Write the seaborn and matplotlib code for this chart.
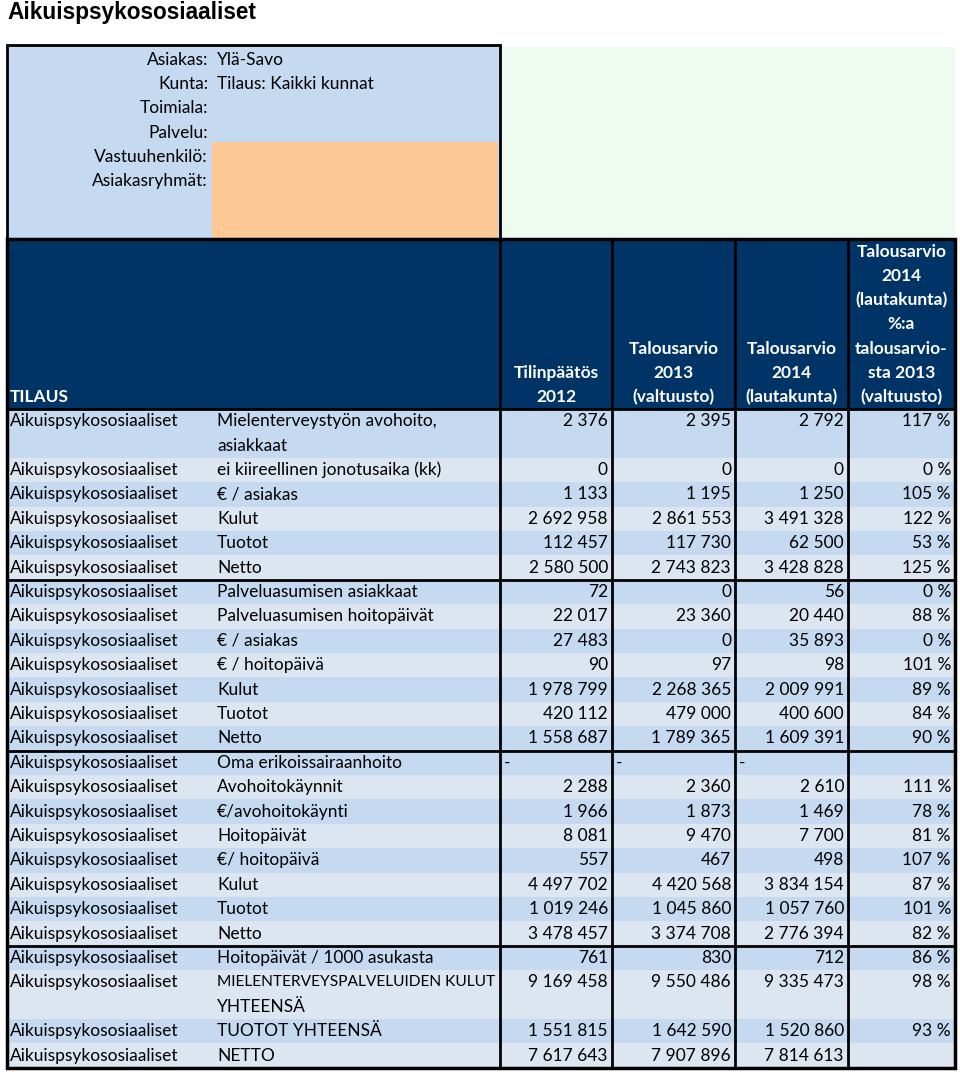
#!/usr/bin/env python3
"""
Aikuispsykososiaaliset - budget table recreated as a figure.
"""
import numpy as np
import matplotlib
matplotlib.use('Agg')
import matplotlib.pyplot as plt
import seaborn as sns

sns.set_theme(style="white")
plt.rcParams['font.family'] = ['Lato', 'DejaVu Sans']

# Data
TITLE = 'Aikuispsykososiaaliset'
info_labels = ['Asiakas:', 'Kunta:', 'Toimiala:', 'Palvelu:', 'Vastuuhenkilö:', 'Asiakasryhmät:']
info_values = ['Ylä-Savo', 'Tilaus: Kaikki kunnat', '', '', '', '']

col_headers = ['Tilinpäätös\n2012',
               'Talousarvio\n2013\n(valtuusto)',
               'Talousarvio\n2014\n(lautakunta)',
               'Talousarvio\n2014\n(lautakunta)\n%:a\ntalousarvio-\nsta 2013\n(valtuusto)']
first_header = 'TILAUS'
tilaus = 'Aikuispsykososiaaliset'

rivit = ['Mielenterveystyön avohoito,\nasiakkaat', 'ei kiireellinen jonotusaika (kk)', '€ / asiakas',
         'Kulut', 'Tuotot', 'Netto',
         'Palveluasumisen asiakkaat', 'Palveluasumisen hoitopäivät', '€ / asiakas', '€ / hoitopäivä',
         'Kulut', 'Tuotot', 'Netto',
         'Oma erikoissairaanhoito', 'Avohoitokäynnit', '€/avohoitokäynti', 'Hoitopäivät', '€/ hoitopäivä',
         'Kulut', 'Tuotot', 'Netto',
         'Hoitopäivät / 1000 asukasta', 'MIELENTERVEYSPALVELUIDEN KULUT\nYHTEENSÄ', 'TUOTOT YHTEENSÄ', 'NETTO']
tp2012 = [2376, 0, 1133, 2692958, 112457, 2580500,
          72, 22017, 27483, 90, 1978799, 420112, 1558687,
          None, 2288, 1966, 8081, 557, 4497702, 1019246, 3478457,
          761, 9169458, 1551815, 7617643]
ta2013 = [2395, 0, 1195, 2861553, 117730, 2743823,
          0, 23360, 0, 97, 2268365, 479000, 1789365,
          None, 2360, 1873, 9470, 467, 4420568, 1045860, 3374708,
          830, 9550486, 1642590, 7907896]
ta2014 = [2792, 0, 1250, 3491328, 62500, 3428828,
          56, 20440, 35893, 98, 2009991, 400600, 1609391,
          None, 2610, 1469, 7700, 498, 3834154, 1057760, 2776394,
          712, 9335473, 1520860, 7814613]
muutos = [117, 0, 105, 122, 53, 125,
          0, 88, 0, 101, 89, 84, 90,
          None, 111, 78, 81, 107, 87, 101, 82,
          86, 98, 93, None]
group_sizes = [6, 7, 8, 4]

# Layout (pixels)
W, H = 960, 1072
col_x = [7, 212, 500, 612, 735, 848, 955]
info_top, head_top, head_bot = 45, 239, 409
line_h = 24.4
fs = 12.5
c_dark = '#003366'
c_mid = '#c5d9f1'
c_light = '#dce6f1'


def fmt(v):
    return f"{v:,}".replace(',', ' ')


fig = plt.figure(figsize=(W / 100, H / 100), dpi=100)
ax = fig.add_axes([0, 0, 1, 1])
ax.set_xlim(0, W)
ax.set_ylim(H, 0)
ax.axis('off')
renderer = fig.canvas.get_renderer()

ax.text(7, 12, TITLE, fontsize=16.3, fontweight='bold', family=['Liberation Sans', 'DejaVu Sans'],
        ha='left', va='center', color='black')

# info block
ax.add_patch(plt.Rectangle((col_x[0], info_top), col_x[2] - col_x[0], head_top - info_top,
                           facecolor=c_mid, edgecolor='none'))
ax.add_patch(plt.Rectangle((col_x[1], 142), col_x[2] - col_x[1] - 2, head_top - 142,
                           facecolor='#fcc896', edgecolor='none'))
ax.add_patch(plt.Rectangle((col_x[2], info_top + 2), col_x[6] - col_x[2], head_top - info_top - 2,
                           facecolor='#eefcf0', edgecolor='none'))
for i, (lab, val) in enumerate(zip(info_labels, info_values)):
    y = 60 + i * 24.2
    ax.text(208, y, lab, fontsize=fs, ha='right', va='center', color='black')
    ax.text(217, y, val, fontsize=fs, ha='left', va='center', color='black')
ax.add_patch(plt.Rectangle((col_x[0], info_top), col_x[2] - col_x[0], head_top - info_top,
                           facecolor='none', edgecolor='black', lw=2))

# header
ax.add_patch(plt.Rectangle((col_x[0], head_top), col_x[6] - col_x[0], head_bot - head_top,
                           facecolor=c_dark, edgecolor='none'))
ax.text(10, 397, first_header, fontsize=fs, fontweight='bold', color='white', ha='left', va='center')
for k, hd in enumerate(col_headers):
    lines = hd.split('\n')
    cx = (col_x[k + 2] + col_x[k + 3]) / 2
    for j, ln in enumerate(reversed(lines)):
        ax.text(cx, 397 - j * 24.2, ln, fontsize=fs, fontweight='bold', color='white',
                ha='center', va='center')

# rows
n_lines = np.array([r.count('\n') + 1 for r in rivit])
heights = n_lines * line_h
tops = head_bot + np.concatenate([[0], np.cumsum(heights)[:-1]])
shade = []
for g in group_sizes:
    shade += [c_mid if i % 2 == 0 else c_light for i in range(g)]
ax.barh(tops + heights / 2, col_x[6] - col_x[0], left=col_x[0], height=heights,
        color=shade, edgecolor='none')

desc_room = col_x[2] - 217 - 4
for i, desc in enumerate(rivit):
    yc = tops[i] + line_h / 2
    ax.text(10, yc, tilaus, fontsize=fs, ha='left', va='center', color='black')
    for j, ln in enumerate(desc.split('\n')):
        t = ax.text(217, yc + j * line_h, ln, fontsize=fs, ha='left', va='center', color='black')
        wpx = t.get_window_extent(renderer).width
        if wpx > desc_room:
            t.set_fontsize(fs * desc_room / wpx)
    for k, series in enumerate([tp2012, ta2013, ta2014]):
        v = series[i]
        if v is None:
            ax.text(col_x[k + 2] + 4, yc, '-', fontsize=fs, ha='left', va='center', color='black')
        else:
            ax.text(col_x[k + 3] - 4, yc, fmt(v), fontsize=fs, ha='right', va='center', color='black')
    if muutos[i] is not None:
        ax.text(col_x[6] - 4, yc, f'{muutos[i]} %', fontsize=fs, ha='right', va='center', color='black')

# borders
bottom = tops[-1] + heights[-1]
for x in col_x[2:6]:
    ax.plot([x, x], [head_top, bottom], color='black', lw=2, solid_capstyle='butt')
ends = np.cumsum(group_sizes)[:-1]
for e in ends:
    y = tops[e]
    ax.plot([col_x[0], col_x[6]], [y, y], color='black', lw=2)
ax.plot([col_x[0], col_x[6]], [head_bot, head_bot], color='black', lw=2)
ax.add_patch(plt.Rectangle((col_x[0], head_top), col_x[6] - col_x[0], bottom - head_top,
                           facecolor='none', edgecolor='black', lw=2.5))

fig.savefig('out.png', dpi=100)
plt.close('all')
